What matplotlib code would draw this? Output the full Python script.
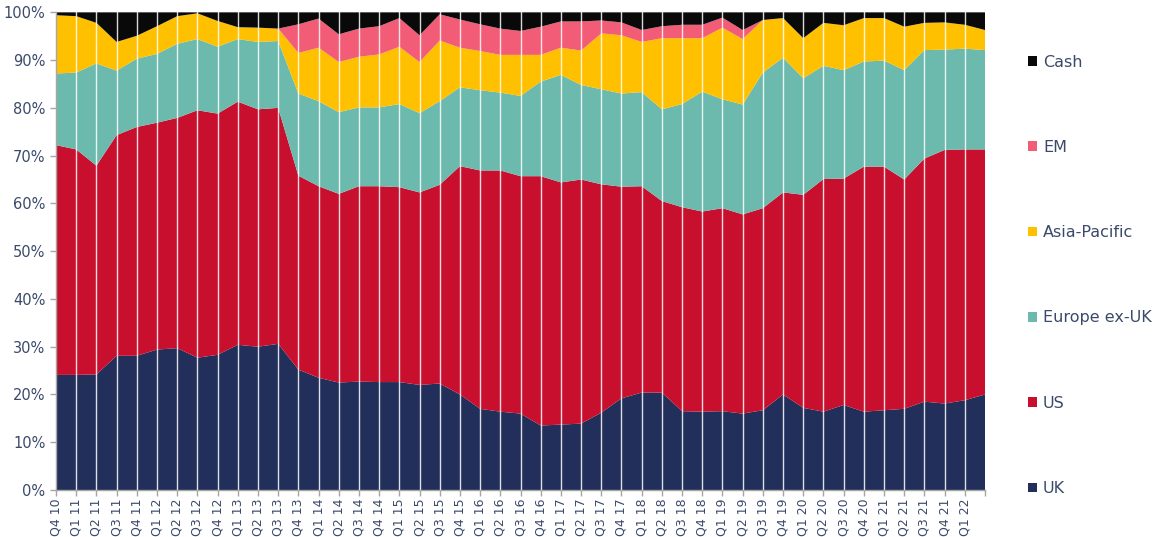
import matplotlib
matplotlib.use("Agg")
import matplotlib.pyplot as plt
from matplotlib.patches import Patch
import numpy as np

# quarters, Q4 10 .. Q2 22 (last one has no label on the axis)
quarters = ["Q4 10",
            "Q1 11", "Q2 11", "Q3 11", "Q4 11",
            "Q1 12", "Q2 12", "Q3 12", "Q4 12",
            "Q1 13", "Q2 13", "Q3 13", "Q4 13",
            "Q1 14", "Q2 14", "Q3 14", "Q4 14",
            "Q1 15", "Q2 15", "Q3 15", "Q4 15",
            "Q1 16", "Q2 16", "Q3 16", "Q4 16",
            "Q1 17", "Q2 17", "Q3 17", "Q4 17",
            "Q1 18", "Q2 18", "Q3 18", "Q4 18",
            "Q1 19", "Q2 19", "Q3 19", "Q4 19",
            "Q1 20", "Q2 20", "Q3 20", "Q4 20",
            "Q1 21", "Q2 21", "Q3 21", "Q4 21",
            "Q1 22", ""]

uk = [24.1, 24.1, 24.2, 28.1, 28.1, 29.4, 29.7, 27.7, 28.3, 30.4, 30.0, 30.6,
      25.2, 23.5, 22.5, 22.7, 22.6, 22.6, 22.0, 22.3, 20.0, 17.0, 16.4, 16.0,
      13.5, 13.7, 13.9, 16.2, 19.2, 20.4, 20.4, 16.5, 16.4, 16.5, 16.0, 16.7,
      20.0, 17.2, 16.4, 17.8, 16.4, 16.7, 17.0, 18.5, 18.1, 18.8, 20.0]
us = [48.1, 47.2, 43.7, 46.2, 47.9, 47.5, 48.2, 51.8, 50.5, 50.9, 49.7, 49.4,
      40.6, 40.1, 39.5, 40.9, 41.0, 40.8, 40.3, 41.6, 47.8, 49.9, 50.5, 49.7,
      52.2, 50.7, 51.1, 47.8, 44.3, 43.2, 40.1, 42.7, 41.9, 42.5, 41.7, 42.3,
      42.3, 44.6, 48.7, 47.4, 51.3, 51.0, 48.0, 50.9, 53.1, 52.5, 51.3]
europe = [15.0, 16.1, 21.4, 13.5, 14.3, 14.4, 15.5, 14.9, 14.0, 13.1, 14.1, 14.0,
          17.2, 17.8, 17.1, 16.5, 16.5, 17.4, 16.6, 17.5, 16.5, 16.8, 16.3, 16.8,
          19.8, 22.5, 19.8, 19.9, 19.5, 19.7, 19.2, 21.6, 25.1, 22.8, 23.0, 28.4,
          28.2, 24.4, 23.7, 22.7, 22.0, 22.2, 22.9, 22.7, 21.0, 21.1, 20.8]
asia = [12.2, 11.8, 8.5, 6.0, 4.8, 5.8, 5.8, 5.4, 5.4, 2.5, 3.0, 2.6,
        8.5, 11.2, 10.5, 10.6, 11.1, 12.0, 10.7, 12.7, 8.3, 8.2, 7.9, 8.6,
        5.6, 5.7, 7.2, 11.7, 12.2, 10.5, 14.9, 13.8, 11.2, 15.0, 13.7, 11.0,
        8.3, 8.4, 9.0, 9.4, 9.1, 8.9, 9.1, 5.7, 5.7, 5.0, 4.2]
em = [0, 0, 0, 0, 0, 0, 0, 0, 0, 0, 0, 0,
      6.0, 6.1, 5.8, 5.9, 5.9, 6.0, 5.6, 5.5, 5.9, 5.6, 5.5, 5.0,
      5.9, 5.5, 6.1, 2.7, 2.7, 2.5, 2.5, 2.8, 2.8, 2.1, 1.9, 0,
      0, 0, 0, 0, 0, 0, 0, 0, 0, 0, 0]

series_names = ["UK", "US", "Europe ex-UK", "Asia-Pacific", "EM", "Cash"]
colors = ["#212f5a", "#c8102e", "#6cbaae", "#ffc000", "#f25c76", "#090909"]

text_col = "#3b4a6b"

vals = np.array([uk, us, europe, asia, em], dtype=float)
cash = 100 - vals.sum(axis=0)
vals = np.vstack([vals, cash])

x = np.arange(len(quarters))

fig = plt.figure(figsize=(11.53, 5.37), dpi=100)
ax = fig.add_axes([0.0486, 0.0875, 0.8057, 0.8895])

ax.stackplot(x, vals, colors=colors, linewidth=0)

# white vertical gridlines at each quarter
for xi in x[1:-1]:
    ax.axvline(xi, color="white", lw=1.0, alpha=0.85, zorder=3)

ax.set_xlim(0, len(quarters) - 1)
ax.set_ylim(0, 100)
ax.set_yticks(np.arange(0, 101, 10))
ax.set_yticklabels(["{0}%".format(v) for v in range(0, 101, 10)])
ax.set_xticks(x)
ax.set_xticklabels(quarters, rotation=90)

for s in ["top", "right"]:
    ax.spines[s].set_visible(False)
for s in ["left", "bottom"]:
    ax.spines[s].set_color("#a6a6a6")
    ax.spines[s].set_linewidth(1.0)
ax.tick_params(axis="y", colors="#a6a6a6", labelcolor=text_col, labelsize=10.5,
               length=4, width=1)
ax.tick_params(axis="x", colors="#a6a6a6", labelcolor=text_col, labelsize=9,
               length=4, width=1, pad=2)

handles = [Patch(facecolor=c, edgecolor="none") for c in colors[::-1]]
leg = fig.legend(handles, series_names[::-1], loc="upper left",
                 bbox_to_anchor=(0.879, 0.925), frameon=False,
                 handlelength=0.55, handleheight=0.55, handletextpad=0.4,
                 labelspacing=4.4, fontsize=11.5)
for t in leg.get_texts():
    t.set_color(text_col)

fig.savefig("out.png", dpi=100)
